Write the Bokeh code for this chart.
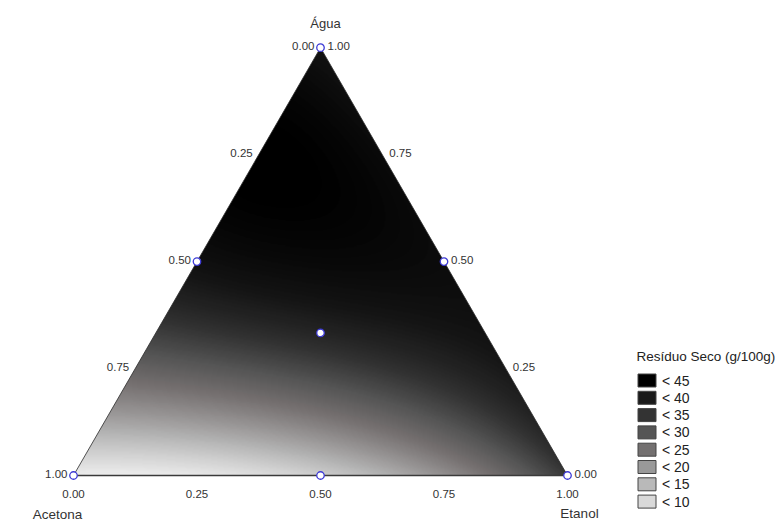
import numpy as np
from bokeh.plotting import figure
from bokeh.models import LinearColorMapper, Range1d
from bokeh.core.properties import value
from bokeh.embed import file_html
from bokeh.resources import INLINE

# Simplex-centroid mixture design (proportions of each solvent) and measured response
agua    = [1.0, 0.0, 0.0, 0.5, 0.5, 0.0, 1 / 3]
acetona = [0.0, 1.0, 0.0, 0.5, 0.0, 0.5, 1 / 3]
etanol  = [0.0, 0.0, 1.0, 0.0, 0.5, 0.5, 1 / 3]
residuo = [40.0, 5.0, 34.0, 41.0, 42.0, 11.0, 37.0]   # Resíduo Seco (g/100g)

tick_values = [0.00, 0.25, 0.50, 0.75, 1.00]
tick_labels = ["0.00", "0.25", "0.50", "0.75", "1.00"]

legend_title = "Resíduo Seco (g/100g)"
legend_labels = ["< 45", "< 40", "< 35", "< 30", "< 25", "< 20", "< 15", "< 10"]
legend_colors = ["#000000", "#1a1a1a", "#333333", "#555555",
                 "#737070", "#999999", "#b9b9b9", "#d9d9d9"]

# grey ramp used for the filled surface (value -> colour anchors)
ramp_values = [5, 10, 15, 20, 25, 30, 35, 40, 45]
ramp_colors = ["#ececec", "#d2d2d2", "#b4b4b4", "#959292", "#757070",
               "#555555", "#303030", "#141414", "#000000"]

# ---- special cubic Scheffé model fitted to the design points ----
a = np.array(agua); b = np.array(acetona); c = np.array(etanol)
A = np.column_stack([a, b, c, a * b, a * c, b * c, a * b * c])
coef = np.linalg.solve(A, np.array(residuo))


def model(x1, x2, x3):
    return (coef[0] * x1 + coef[1] * x2 + coef[2] * x3 + coef[3] * x1 * x2
            + coef[4] * x1 * x3 + coef[5] * x2 * x3 + coef[6] * x1 * x2 * x3)


H = np.sqrt(3) / 2


def to_xy(w_agua, w_etanol):
    w_agua = np.asarray(w_agua, dtype=float)
    w_etanol = np.asarray(w_etanol, dtype=float)
    return w_etanol + w_agua / 2, w_agua * H


# surface on a fine grid, masked outside the simplex
nx = 760
ny = int(round(nx * H))
gx = (np.arange(nx) + 0.5) / nx
gy = (np.arange(ny) + 0.5) / ny * H
GX, GY = np.meshgrid(gx, gy)
X1 = GY / H
X3 = GX - X1 / 2
X2 = 1 - X1 - X3
Z = model(X1, X2, X3).astype(np.float32)
eps = -0.006
Z[(X1 < eps) | (X2 < eps) | (X3 < eps)] = np.nan


def hex_rgb(h):
    h = h.lstrip("#")
    return [int(h[i:i + 2], 16) for i in (0, 2, 4)]


lo, hi = ramp_values[0], ramp_values[-1]
levels = np.linspace(lo, hi, 120)
rgb = np.array([hex_rgb(h) for h in ramp_colors], dtype=float)
palette = []
for v in levels:
    r = np.interp(v, ramp_values, rgb[:, 0])
    g = np.interp(v, ramp_values, rgb[:, 1])
    bl = np.interp(v, ramp_values, rgb[:, 2])
    palette.append("#%02x%02x%02x" % (int(round(r)), int(round(g)), int(round(bl))))
mapper = LinearColorMapper(palette=palette, low=lo, high=hi,
                           nan_color="rgba(0,0,0,0)")

# ---- figure: 1 unit of the simplex side = S pixels ----
S = 494.0
OX, OY = 73.0, 475.0
W, HT = 775, 523


def px(x):
    return (x - OX) / S


def py(y):
    return (OY - y) / S


p = figure(width=W, height=HT, x_range=Range1d(px(0), px(W)),
           y_range=Range1d(py(HT), py(0)), output_backend="svg",
           toolbar_location=None, min_border=0,
           x_axis_location=None, y_axis_location=None)
p.grid.visible = False
p.outline_line_color = None
p.background_fill_color = "white"
p.border_fill_color = "white"

p.image(image=[Z], x=0, y=0, dw=1, dh=H, color_mapper=mapper)

# white masks outside the slanted edges keep the surface edge clean
m = 0.3
p.patches(xs=[[0, 0.5, 0.5, -m, -m], [1, 0.5, 0.5, 1 + m, 1 + m]],
          ys=[[0, H, H + m, H + m, -0.002], [0, H, H + m, H + m, -0.002]],
          fill_color="white", line_color=None)
p.patch(x=[-m, 1 + m, 1 + m, -m], y=[0, 0, -m, -m], fill_color="white",
        line_color=None)

# triangle border
p.line(x=[0.5, 0], y=[H, 0], line_color="#2a2a2a", line_width=0.8)
p.line(x=[0.5, 1], y=[H, 0], line_color="#2a2a2a", line_width=0.8)
p.line(x=[0, 1], y=[0, 0], line_color="#3a3a3a", line_width=1.3)

# design points
dx, dy = to_xy(agua, etanol)
p.scatter(x=dx, y=dy, size=7.5, marker="circle", line_color="#3d3ad6",
          fill_color="white", line_width=1.3)

font = value("Liberation Sans")
tick_color = "#333333"
tv = np.array(tick_values)

# left edge: Acetona fraction (0 at top, 1 at bottom-left)
lx, ly = to_xy(1 - tv, np.zeros_like(tv))
p.text(x=lx, y=ly, text=tick_labels, text_font=font, text_font_size="11.5px",
       text_color=tick_color, text_align="right", text_baseline="middle",
       x_offset=-6, y_offset=-2)

# right edge: Água fraction (1 at top, 0 at bottom-right)
rx, ry = to_xy(tv, 1 - tv)
p.text(x=rx, y=ry, text=tick_labels, text_font=font, text_font_size="11.5px",
       text_color=tick_color, text_align="left", text_baseline="middle",
       x_offset=7, y_offset=-2)

# bottom edge: Etanol fraction (0 at left, 1 at right)
bx, by = to_xy(np.zeros_like(tv), tv)
p.text(x=bx, y=by, text=tick_labels, text_font=font, text_font_size="11.5px",
       text_color=tick_color, text_align="center", text_baseline="middle",
       y_offset=18)

# component names at the vertices
p.text(x=[0.5], y=[H], text=["Água"], text_font=font, text_font_size="13px",
       text_color=tick_color, text_align="center", text_baseline="middle",
       x_offset=5, y_offset=-24)
p.text(x=[0.0], y=[0.0], text=["Acetona"], text_font=font, text_font_size="13.5px",
       text_color=tick_color, text_align="center", text_baseline="middle",
       x_offset=-16, y_offset=39)
p.text(x=[1.0], y=[0.0], text=["Etanol"], text_font=font, text_font_size="13.5px",
       text_color=tick_color, text_align="center", text_baseline="middle",
       x_offset=12, y_offset=38)

# legend
p.text(x=[px(636)], y=[py(356)], text=[legend_title], text_font=font,
       text_font_size="13.5px", text_color="#222222", text_align="left",
       text_baseline="middle")
rows = np.arange(len(legend_labels))
row_y = py(380 + 17.3 * rows)
p.rect(x=np.full(len(rows), px(646.5)), y=row_y, width=18, height=13,
       width_units="screen", height_units="screen", fill_color=legend_colors,
       line_color="#444444", line_width=1)
p.text(x=np.full(len(rows), px(661.5)), y=row_y, text=legend_labels, text_font=font,
       text_font_size="14px", text_color="#222222", text_align="left",
       text_baseline="middle")

open("out.html", "w").write(file_html(p, INLINE))
